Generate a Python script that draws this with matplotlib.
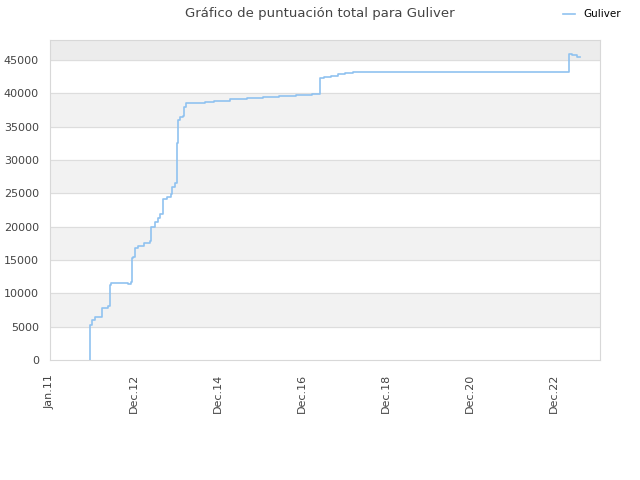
import matplotlib
matplotlib.use("Agg")
import matplotlib.pyplot as plt
import matplotlib.dates as mdates
import numpy as np

# Datos (puntuación acumulada, escalones)
fechas = [
    "2011-12-17", "2011-12-18", "2012-01-04", "2012-01-26", "2012-03-17",
    "2012-03-30", "2012-05-21", "2012-06-03", "2012-06-06", "2012-06-18",
    "2012-08-03", "2012-11-10", "2012-12-02", "2012-12-11", "2012-12-22",
    "2013-01-08", "2013-02-08", "2013-03-28", "2013-05-19", "2013-05-25",
    "2013-07-01", "2013-07-25", "2013-08-19", "2013-09-08", "2013-10-11",
    "2013-11-17", "2013-11-27", "2013-12-21", "2014-01-06", "2014-01-09",
    "2014-01-15", "2014-02-03", "2014-03-04", "2014-03-13", "2014-04-01",
    "2014-09-09", "2014-11-28", "2015-04-15", "2015-09-07", "2016-01-23",
    "2016-06-13", "2016-11-08", "2017-03-25", "2017-06-04", "2017-07-10",
    "2017-09-09", "2017-11-06", "2018-01-09", "2018-03-16", "2023-05-10",
    "2023-06-01", "2023-07-16", "2023-08-13",
]
puntos = [
    0, 5250, 6000, 6400, 6500,
    7750, 8100, 9250, 11250, 11500,
    11600, 11400, 11750, 15250, 15500,
    16750, 17150, 17500, 17900, 20000,
    20750, 21300, 21900, 24100, 24500,
    24900, 26000, 26500, 27000, 32500,
    36000, 36400, 36600, 37900, 38600,
    38750, 38900, 39100, 39250, 39400,
    39550, 39700, 39850, 42250, 42500,
    42650, 42850, 43000, 43150, 45850,
    45750, 45500, 45500,
]
tick_fechas = ["2011-01-01", "2012-12-31", "2014-12-31", "2016-12-30",
               "2018-12-30", "2020-12-29", "2022-12-29"]
titulo = "Gráfico de puntuación total para Guliver"
jugador = "Guliver"

x = np.array(fechas, dtype="datetime64[D]")
xt = np.array(tick_fechas, dtype="datetime64[D]")

fig = plt.figure(figsize=(6.4, 4.8), dpi=100)
ax = fig.add_axes([0.078, 0.25, 0.8595, 0.6667])

ymax = 48000
# bandas de fondo
for lo in range(0, 45000, 5000):
    if (lo // 5000) % 2 == 1:
        ax.axhspan(lo, lo + 5000, color="#f2f2f2", zorder=0)
ax.axhspan(45000, ymax, color="#ececec", zorder=0)
for yv in range(5000, 50000, 5000):
    ax.axhline(yv, color="#dddddd", lw=0.8, zorder=1)

ax.plot(x, puntos, drawstyle="steps-post", color="#90c2f0", lw=1.2,
        label=jugador, zorder=3)

ax.set_ylim(0, ymax)
ax.set_xlim(np.datetime64("2011-01-01"), np.datetime64("2024-02-03"))
ax.set_yticks(range(0, 50000, 5000))
ax.set_xticks(xt)
ax.xaxis.set_major_formatter(mdates.DateFormatter("%b.%y"))
plt.setp(ax.get_xticklabels(), rotation=90)
ax.tick_params(axis="both", labelsize=8, colors="#444444", length=0)
ax.tick_params(axis="x", pad=10)
ax.tick_params(axis="y", pad=8)
for s in ax.spines.values():
    s.set_color("#d8d8d8")

fig.suptitle(titulo, fontsize=9.5, color="#444444", y=0.985)
fig.legend(loc="upper right", bbox_to_anchor=(0.985, 1.0), frameon=False,
           fontsize=7.5, handlelength=1.2)

fig.savefig("out.png", dpi=100)
